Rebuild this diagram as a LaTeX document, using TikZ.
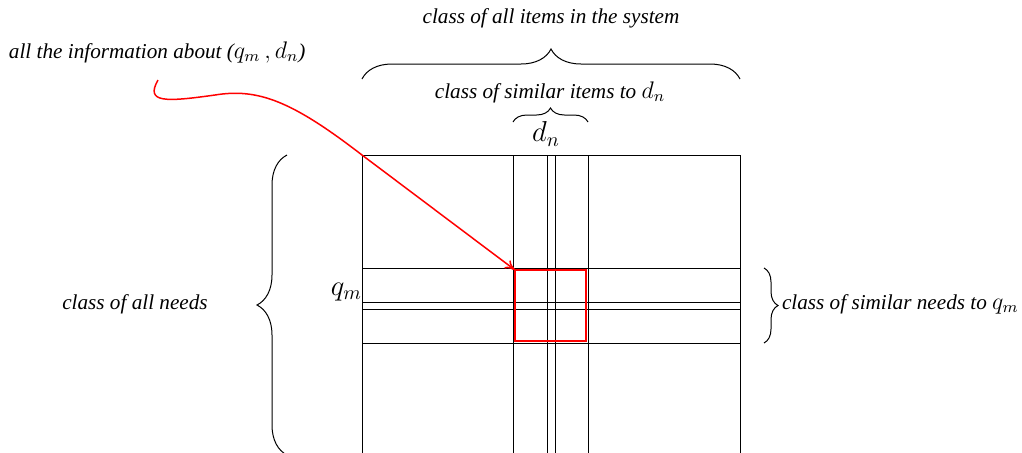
\documentclass[tikz,border=0pt]{standalone}
\usepackage{fontspec}
\setmainfont{Liberation Serif}
\usetikzlibrary{decorations.pathreplacing,arrows.meta}
\newcommand{\bm}[1]{{\fontsize{12}{13}\selectfont$#1$}}
\begin{document}
\begin{tikzpicture}[x=0.5pt,y=-0.5pt,
  every node/.style={inner sep=0pt,outer sep=0pt},
  lbl/.style={font=\fontsize{10.6}{13}\selectfont\itshape},
  big/.style={font=\fontsize{14}{16}\selectfont},
  grid/.style={line width=0.4pt,black},
  br/.style={decorate,decoration={brace,amplitude=15pt},line width=0.5pt}]
\useasboundingbox (0,0) rectangle (1022,452);
\begin{scope}
\clip (0,0) rectangle (1022,452);
% outer rectangle
\draw[grid] (362,155) rectangle (740,470);
% vertical lines
\foreach \x in {513,547,555,588} \draw[grid] (\x,155) -- (\x,470);
% horizontal lines
\foreach \y in {268,302,309,343} \draw[grid] (362,\y) -- (740,\y);
% left brace
\draw[br] (287,455) -- (287,155);
\end{scope}
% red box
\node[draw=red,line width=1pt,minimum width=35.5pt,minimum height=35.5pt,anchor=north west] (box) at (515,270) {};
% top braces
\draw[br] (362,79) -- (740,79);
\draw[br,decoration={amplitude=7pt}] (513,122) -- (588,122);
\draw[br,decoration={amplitude=7pt}] (764,268) -- (764,343);
% labels
\node[lbl] (all) at (551,18) {class of all items in the system};
\node[lbl] (sim) at (550,92) {class of similar items to \bm{d_n}};
\node[big] (dn) at (546,134) {$d_n$};
\node[big,anchor=east] (qm) at (362,292) {$q_m$};
\node[lbl] (needs) at (135,304) {class of all needs};
\node[lbl,anchor=west] (simq) at (782,304) {class of similar needs to \bm{q_m}};
\node[lbl,anchor=west] (info) at (9,52) {all the information about (\bm{q_m\,,d_n})};
\coordinate (start) at (158,80);
% red arrow
\draw[red,line width=0.75pt,-{To[length=5pt,width=5pt]}] (start) .. controls (145,103) and (165,102) .. (215,95) .. controls (258,88) and (292,101) .. (362,155) -- (box.north west);
\end{tikzpicture}
\end{document}
